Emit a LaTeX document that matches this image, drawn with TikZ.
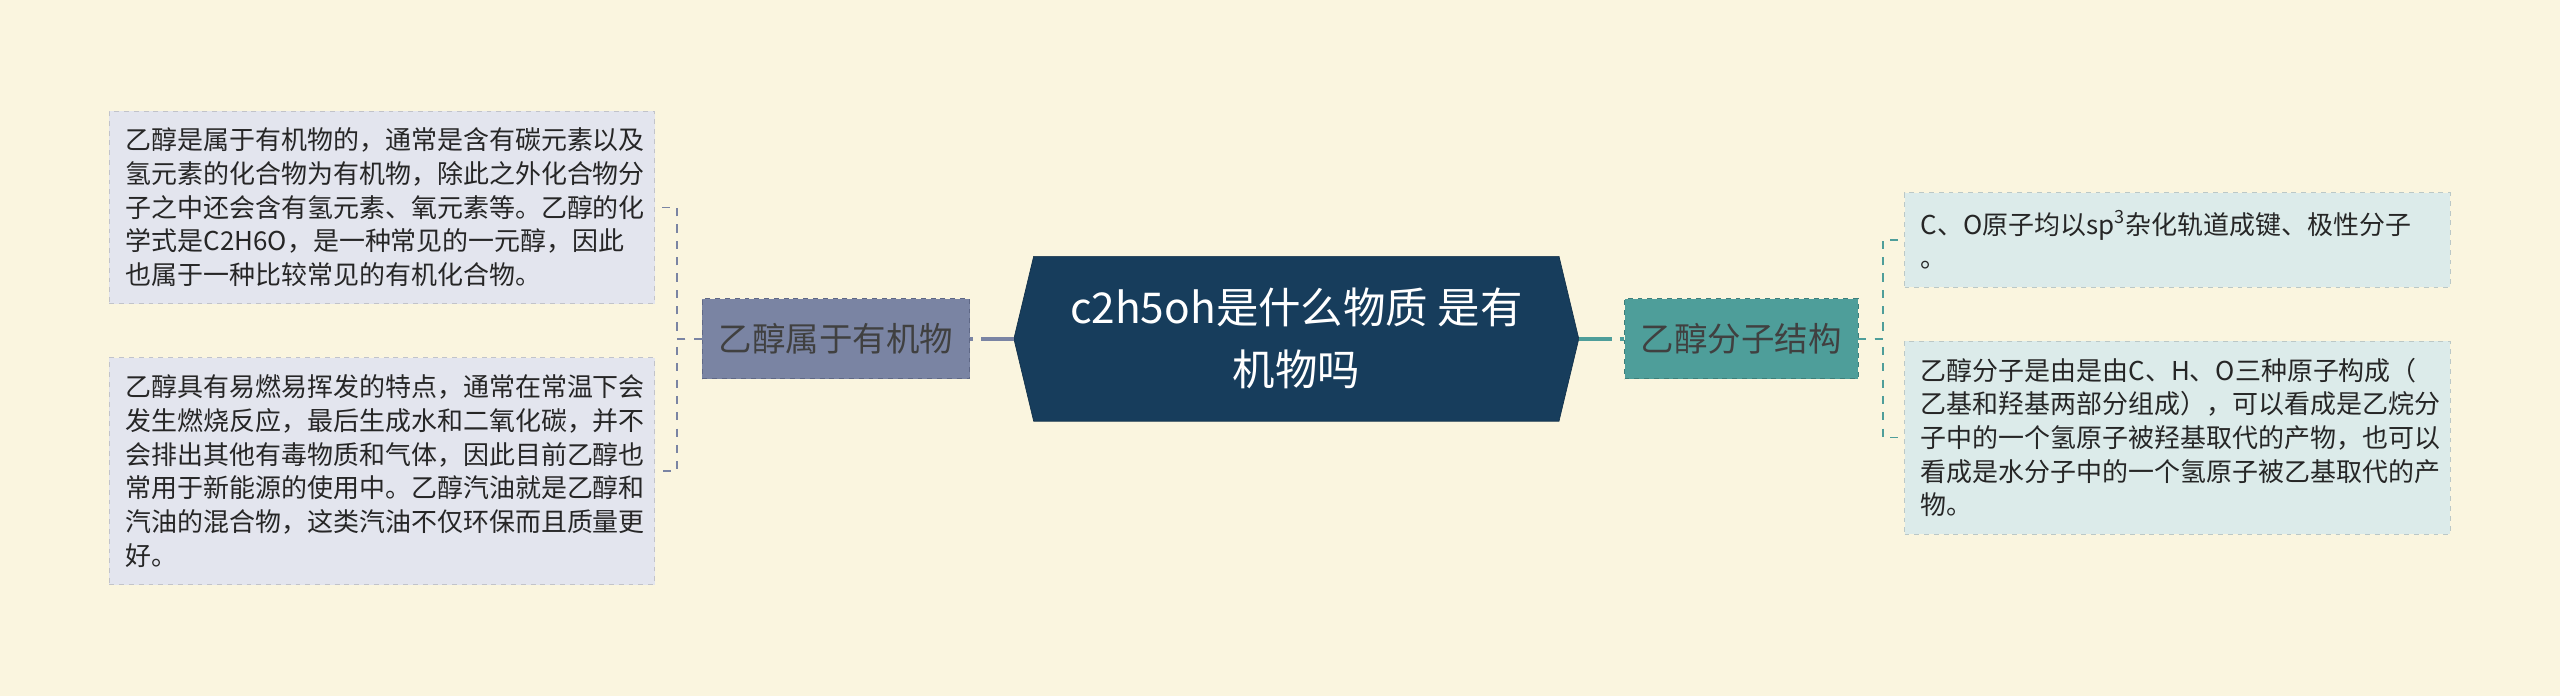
\documentclass[tikz,border=0pt]{standalone}
\usepackage{fontspec}
\setmainfont{Noto Sans CJK SC}
\usepackage{tikz}
\usetikzlibrary{shapes, shapes.symbols, positioning, calc}
\definecolor{paper}{HTML}{FAF5DF}
\definecolor{rootfill}{HTML}{173D5C}
\definecolor{leftmain}{HTML}{7A84A3}
\definecolor{leftdark}{HTML}{5F6886}
\definecolor{leftleaf}{HTML}{E3E5EE}
\definecolor{rightmain}{HTML}{4E9E9A}
\definecolor{rightdark}{HTML}{3D7F7B}
\definecolor{rightleaf}{HTML}{DCEBEA}
\tikzstyle{root}=[signal, signal to=west and east, signal pointer angle=153,
  fill=rootfill, draw=rootfill!80!black, text=white, font=\fontsize{26}{38}\selectfont,
  minimum width=346pt, minimum height=101pt, inner sep=0pt, align=center]
\tikzstyle{branchL}=[fill=leftmain, draw=leftdark, dashed, text=black!75,
  font=\fontsize{20.5}{24}\selectfont, minimum width=164pt, minimum height=49pt, inner sep=0pt]
\tikzstyle{branchR}=[branchL, fill=rightmain, draw=rightdark, minimum width=143pt]
\tikzstyle{leafL}=[fill=leftleaf, draw=leftleaf!85!black, dashed, text=black!85,
  font=\fontsize{15.9}{20.6}\selectfont, text width=314pt, align=left,
  inner xsep=10pt, inner ysep=0pt, minimum width=334pt]
\tikzstyle{leafR}=[leafL, fill=rightleaf, draw=rightleaf!85!black]
\tikzstyle{trunkL}=[draw=leftmain, line width=2.5pt, dash pattern=on 20pt off 5pt]
\tikzstyle{trunkR}=[trunkL, draw=rightmain]
\tikzstyle{linkL}=[draw=leftmain, line width=1pt, dash pattern=on 5pt off 5pt]
\tikzstyle{linkR}=[linkL, draw=rightmain]

\begin{document}
\begin{tikzpicture}[x=1pt, y=1pt]
  \fill[paper] (0,0) rectangle (1568,-426);
  \useasboundingbox (0,0) rectangle (1568,-426);

  \node[root] (c2h5oh) at (794,-207.5) {c2h5oh是什么物质 是有\\机物吗};

  \node[branchL] (organic) at (512,-207.5) {乙醇属于有机物};
  \node[branchR] (structure) at (1066.5,-207.5) {乙醇分子结构};

  \node[leafL, minimum height=118pt] (defn) at (234,-127)
    {乙醇是属于有机物的，通常是含有碳元素以及\\氢元素的化合物为有机物，除此之外化合物分\\子之中还会含有氢元素、氧元素等。乙醇的化\\学式是C2H6O，是一种常见的一元醇，因此\\也属于一种比较常见的有机化合物。};
  \node[leafL, minimum height=139pt] (fuel) at (234,-288.5)
    {乙醇具有易燃易挥发的特点，通常在常温下会\\发生燃烧反应，最后生成水和二氧化碳，并不\\会排出其他有毒物质和气体，因此目前乙醇也\\常用于新能源的使用中。乙醇汽油就是乙醇和\\汽油的混合物，这类汽油不仅环保而且质量更\\好。};
  \node[leafR, minimum height=58pt] (hybrid) at (1333.5,-147)
    {C、O原子均以sp\textsuperscript{3}杂化轨道成键、极性分子\\。};
  \node[leafR, minimum height=118pt] (makeup) at (1333.5,-268)
    {乙醇分子是由是由C、H、O三种原子构成（\\乙基和羟基两部分组成），可以看成是乙烷分\\子中的一个氢原子被羟基取代的产物，也可以\\看成是水分子中的一个氢原子被乙基取代的产\\物。};

  \draw[trunkL] (c2h5oh.west) -- (organic.east);
  \draw[trunkR] (c2h5oh.east) -- (structure.west);

  \draw[linkL] (organic.west) -- ++(-15,0) |- (defn.east);
  \draw[linkL] (organic.west) -- ++(-15,0) |- (fuel.east);
  \draw[linkR] (structure.east) -- ++(15,0) |- (hybrid.west);
  \draw[linkR] (structure.east) -- ++(15,0) |- (makeup.west);
\end{tikzpicture}
\end{document}
